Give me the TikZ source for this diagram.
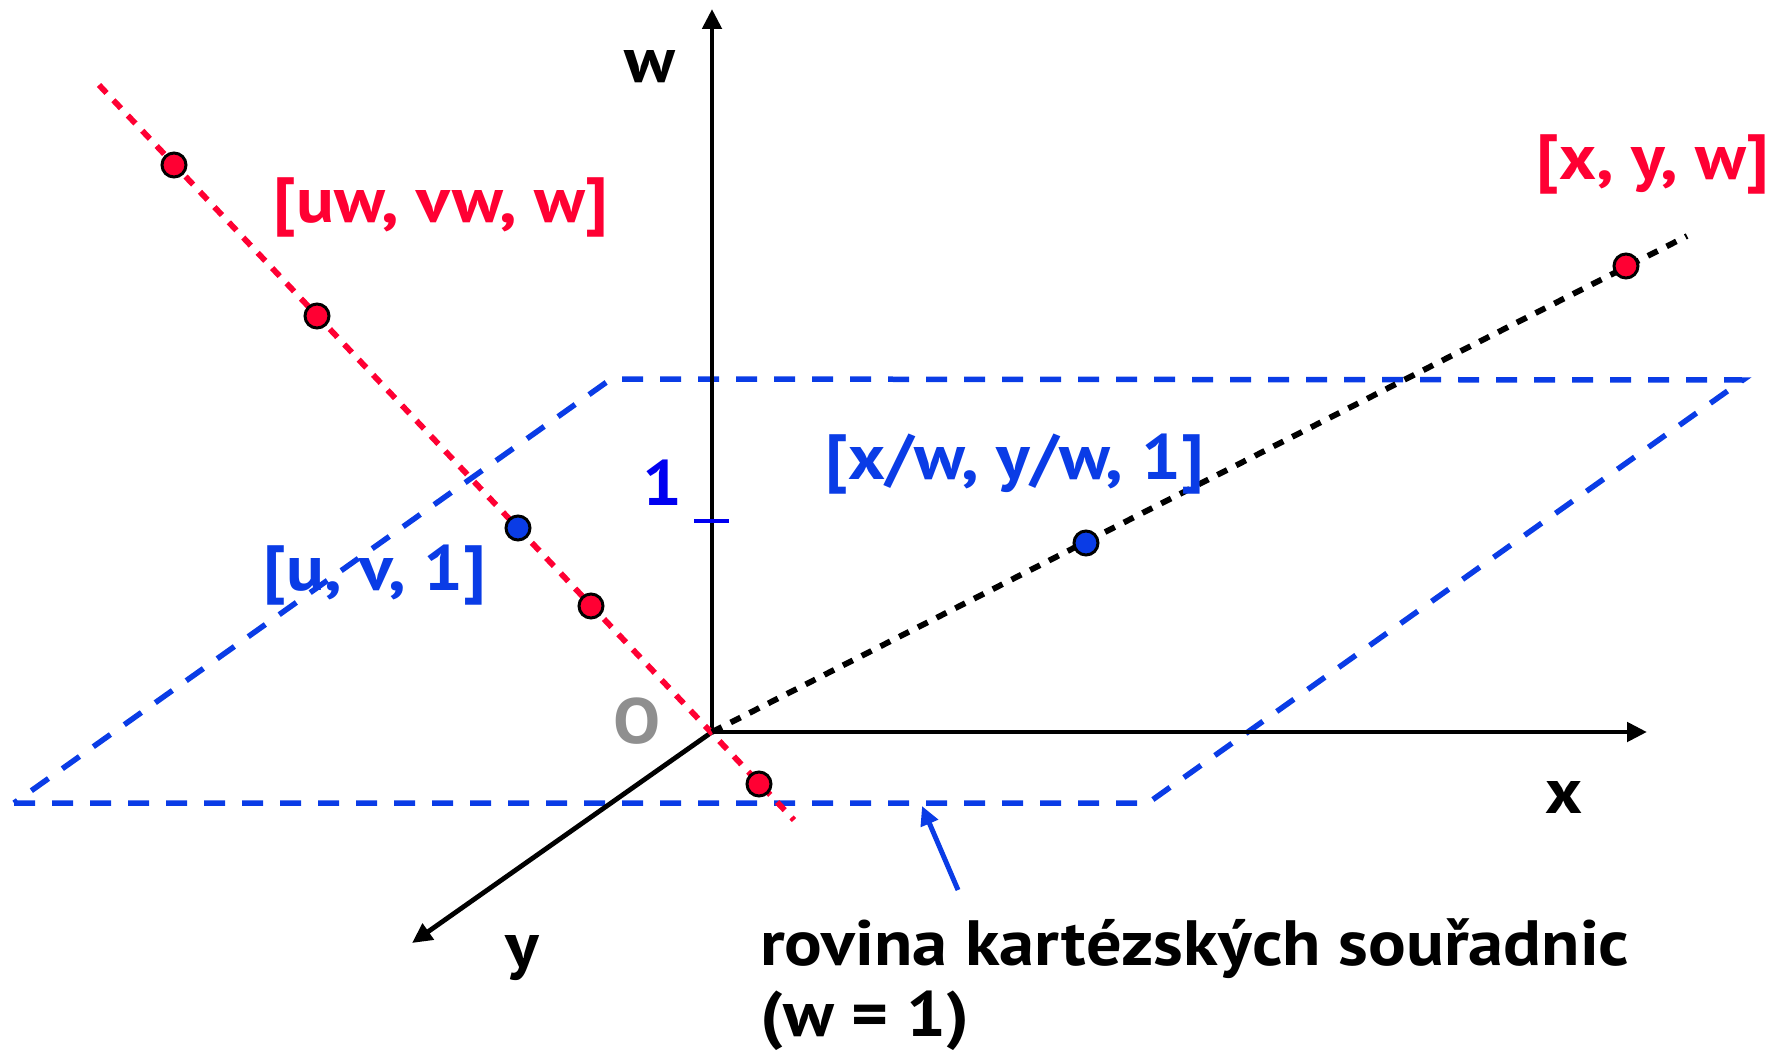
\documentclass[tikz,border=0pt]{standalone}
\usepackage{fontspec}
\setmainfont{PT Sans}[FakeStretch=1.1]
\usetikzlibrary{arrows.meta}
\definecolor{cred}{HTML}{FF0033}
\definecolor{cblue}{HTML}{0A3CE6}
\definecolor{pblue}{HTML}{0000F0}
\definecolor{cgray}{HTML}{8F8F8F}
\begin{document}
\begin{tikzpicture}[x=1pt,y=-1pt,
  lbl/.style={font=\bfseries\fontsize{64}{74}\selectfont, inner sep=0pt},
  axis/.style={line width=4.8pt, -{Triangle[length=20pt,width=19pt]}},
  plane/.style={cblue, line width=5.5pt, dash pattern=on 21pt off 17pt},
  reddot/.style={cred, line width=5.8pt, dash pattern=on 11pt off 10pt},
  blackdot/.style={black, line width=5.8pt, dash pattern=on 11pt off 10pt},
  pt/.style={circle, draw=black, line width=3pt, minimum size=24pt, inner sep=0pt},
]
\useasboundingbox (0,0) rectangle (1773,1051);
% plane
\coordinate (p1) at (14,803);
\coordinate (p2) at (1148,803);
\coordinate (p3) at (1743,380);
\coordinate (p4) at (611,379);
\draw[plane] (p1) -- (p2) -- (p3) -- (p4) -- cycle;
% axes
\coordinate (O) at (712,732);
\coordinate (wend) at (712,9);
\coordinate (xend) at (1647,732);
\coordinate (yend) at (412,943);
\draw[axis] (O) -- (wend);
\draw[axis] (O) -- (xend);
\draw[axis] (O) -- (yend);
% tick
\coordinate (t1) at (694,521);
\coordinate (t2) at (729,521);
\draw[pblue, line width=4.5pt] (t1) -- (t2);
% dotted lines
\coordinate (r1) at (99,85);
\coordinate (r2) at (794,820);
\draw[reddot] (r1) -- (r2);
\coordinate (b2) at (1687,236);
\draw[blackdot] (O) -- (b2);
% points
\node[pt, fill=cred] (a1) at (174,165) {};
\node[pt, fill=cred] (a2) at (317,316) {};
\node[pt, fill=cblue] (a3) at (518,528) {};
\node[pt, fill=cred] (a4) at (591,606) {};
\node[pt, fill=cred] (a5) at (759,784) {};
\node[pt, fill=cblue] (c1) at (1086,543) {};
\node[pt, fill=cred] (c2) at (1626,266) {};
% labels
\node[lbl, text=cred] (luvw) at (441,207) {[uw, vw, w]};
\node[lbl, text=cred] (lxyw) at (1653,164) {[x, y, w]};
\node[lbl, text=cblue] (lxw) at (1015,464) {[x/w, y/w, 1]};
\node[lbl, text=cblue] (luv) at (375,575) {[u, v, 1]};
\node[lbl, text=cgray] (lO) at (637,721) {O};
\node[lbl, text=pblue] (l1) at (662,483) {1};
\node[lbl] (lw) at (650,67) {w};
\node[lbl] (lx) at (1564,797) {x};
\node[lbl] (ly) at (522,958) {y};
\node[lbl, anchor=base west] (cap1) at (760,965) {rovina kartézských souřadnic};
\node[lbl, anchor=base west] (cap2) at (760,1036) {(w = 1)};
% pointer
\coordinate (ar1) at (958,890);
\coordinate (ar2) at (922,806);
\draw[cblue, line width=5pt, -{Triangle[length=19pt,width=18pt]}] (ar1) -- (ar2);
\end{tikzpicture}
\end{document}
